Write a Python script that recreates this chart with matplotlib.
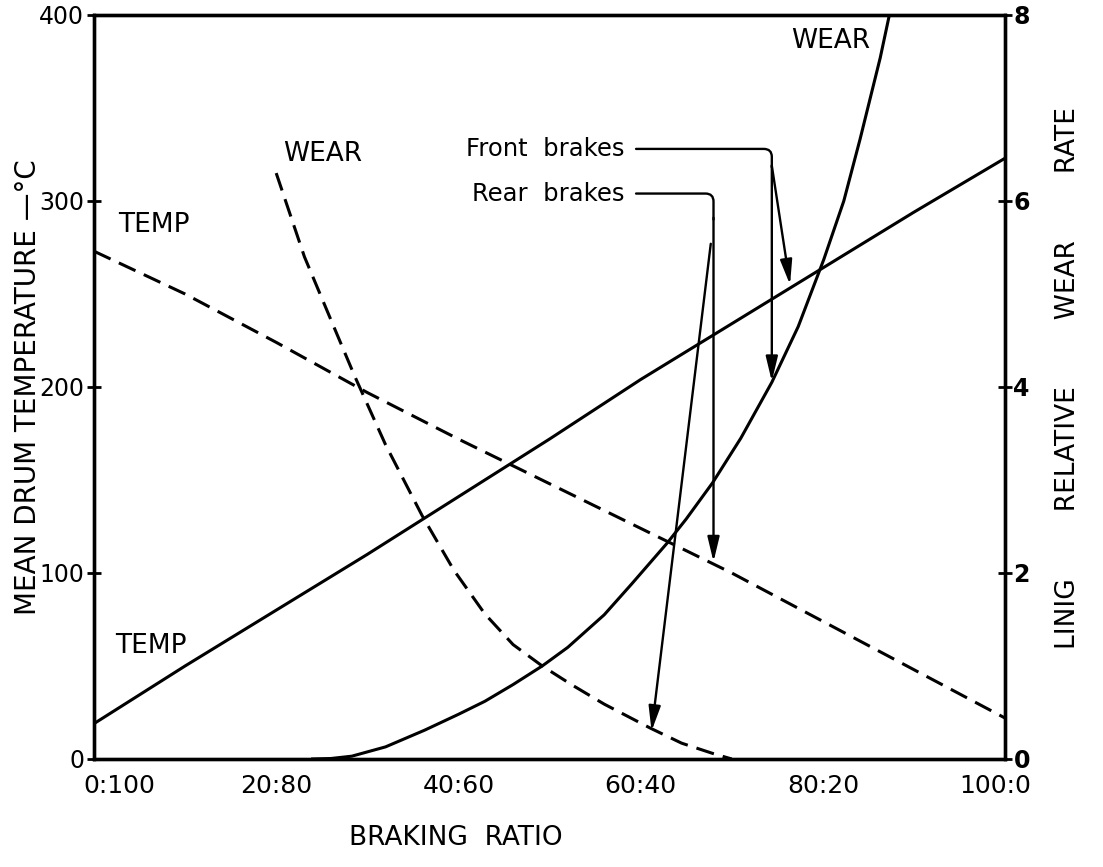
import matplotlib
matplotlib.use("Agg")
import matplotlib.pyplot as plt

plt.rcParams['font.family'] = ['DejaVu Sans']

# braking ratio front:rear, x in % front
ratio = [0, 10, 20, 30, 40, 50, 60, 70, 80, 90, 100]
temp_front = [19, 50, 80, 110, 141, 172, 204, 234, 264, 294, 323]
temp_rear = [273, 250, 224, 197, 172, 148, 124, 100, 74, 48, 22]

wear_front_x = [24, 26, 28.3, 32, 36.3, 40, 42.9, 46, 49.2, 52, 56, 59, 62.9, 65, 67.9,
                71, 74.4, 77.3, 80.1, 82.3, 84.1, 86.3, 87.3]
wear_front = [0, 0.005, 0.03, 0.13, 0.31, 0.48, 0.62, 0.8, 1.0, 1.2, 1.55, 1.88, 2.32, 2.58, 2.97,
              3.45, 4.05, 4.65, 5.37, 6.0, 6.67, 7.54, 8.0]

wear_rear_x = [20, 23.1, 26.1, 28.6, 32, 36, 39.5, 42.9, 46, 49.2, 52.4, 56, 61.1, 64.5, 67.9, 70]
wear_rear = [6.3, 5.4, 4.7, 4.12, 3.38, 2.62, 2.03, 1.56, 1.23, 1.0, 0.8, 0.59, 0.33, 0.17, 0.06, 0.0]

xtick_pos = [2.8, 20, 40, 60, 80, 98.9]
xtick_labels = ['0:100', '20:80', '40:60', '60:40', '80:20', '100:0']
temp_ticks = [0, 100, 200, 300, 400]
wear_ticks = [0, 2, 4, 6, 8]

fig = plt.figure(figsize=(11.03, 8.67), dpi=100)
ax = fig.add_axes([0.0852, 0.1246, 0.826, 0.8581])
ax2 = ax.twinx()

ax.set_xlim(0, 100)
ax.set_ylim(0, 400)
ax2.set_ylim(0, 8)

for a in (ax, ax2):
    for s in a.spines.values():
        s.set_linewidth(2.4)

# temperature lines
ax.plot(ratio, temp_front, color='k', lw=2.2)
ax.plot(ratio, temp_rear, color='k', lw=2.2, dashes=(6, 3))

# wear curves
ax2.plot(wear_front_x, wear_front, color='k', lw=2.2)
ax2.plot(wear_rear_x, wear_rear, color='k', lw=2.2, dashes=(6, 3))

# ticks
ax.set_xticks(xtick_pos, xtick_labels, fontsize=18)
ax.tick_params(axis='x', length=0, pad=11)
ax.set_xticks([20, 40, 60, 80], minor=True)
ax.tick_params(axis='x', which='minor', direction='in', length=8, width=2)

ax.set_yticks(temp_ticks, [str(t) for t in temp_ticks], fontsize=17)
ax.tick_params(axis='y', direction='inout', length=10, width=2, pad=2)
ax2.set_yticks(wear_ticks, [str(t) for t in wear_ticks], fontsize=17, fontweight='bold')
ax2.tick_params(axis='y', direction='inout', length=10, width=2, pad=1)

# axis titles
ax.set_ylabel('MEAN DRUM TEMPERATURE —°C', fontsize=20)
ax.yaxis.set_label_coords(-0.057, 0.5)
ax2.set_ylabel('LINIG        RELATIVE        WEAR        RATE', fontsize=19)
ax2.yaxis.set_label_coords(1.055, 0.512)
fig.text(0.413, 0.033, 'BRAKING  RATIO', fontsize=19, ha='center', va='center')

# curve labels
ax.text(6.6, 287, 'TEMP', fontsize=19, ha='center', va='center')
ax.text(6.2, 61, 'TEMP', fontsize=19, ha='center', va='center')
ax.text(25.1, 325, 'WEAR', fontsize=19, ha='center', va='center')
ax.text(80.9, 386, 'WEAR', fontsize=19, ha='center', va='center')

# callouts
ax.text(58.2, 328, 'Front  brakes', fontsize=17.5, ha='right', va='center')
ax.text(58.2, 304, 'Rear  brakes', fontsize=17.5, ha='right', va='center')

line_kw = dict(arrowstyle='-', lw=1.7, color='k', shrinkA=0, shrinkB=0,
               connectionstyle='angle,angleA=0,angleB=90,rad=8')
arrow_kw = dict(arrowstyle='-|>,head_length=0.75,head_width=0.18', mutation_scale=20,
                lw=1.7, color='k', shrinkA=0, shrinkB=0)

ax.annotate('', xy=(74.4, 318), xytext=(59.5, 328), arrowprops=line_kw)
ax.annotate('', xy=(74.4, 203), xytext=(74.4, 319), arrowprops=arrow_kw)
ax.annotate('', xy=(76.4, 255), xytext=(74.4, 319), arrowprops=arrow_kw)

ax.annotate('', xy=(68.0, 290), xytext=(59.5, 304), arrowprops=line_kw)
ax.annotate('', xy=(68.0, 106), xytext=(68.0, 291), arrowprops=arrow_kw)
ax.annotate('', xy=(61.2, 15), xytext=(67.7, 277), arrowprops=arrow_kw)

fig.savefig('out.png', dpi=100)
